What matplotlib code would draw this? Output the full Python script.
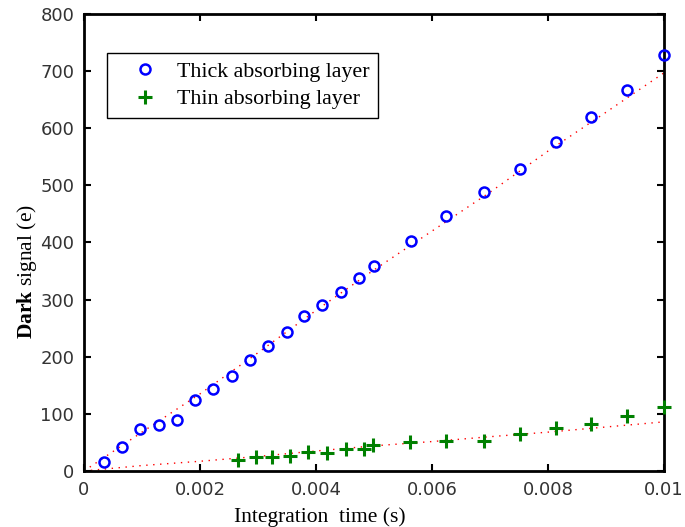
import numpy as np
import matplotlib.pyplot as plt

plt.rcParams["mathtext.fontset"] = "custom"
plt.rcParams["mathtext.bf"] = "Liberation Serif:bold"
plt.rcParams["mathtext.rm"] = "Liberation Serif"

# Thick absorbing layer: integration time (s) and dark signal (e)
t_thick = [0.00035, 0.00066, 0.00097, 0.00129, 0.00160, 0.00192, 0.00222, 0.00255,
           0.00287, 0.00317, 0.00350, 0.00379, 0.00411, 0.00443, 0.00474, 0.00500,
           0.00563, 0.00625, 0.00689, 0.00751, 0.00813, 0.00875, 0.00936, 0.01000]
s_thick = [15, 42, 73, 80, 89, 124, 143, 166,
           194, 218, 243, 272, 290, 314, 337, 358,
           403, 447, 489, 529, 576, 620, 667, 728]

# Thin absorbing layer
t_thin = [0.00266, 0.00296, 0.00325, 0.00356, 0.00387, 0.00419, 0.00452, 0.00482,
          0.00499, 0.00562, 0.00624, 0.00689, 0.00751, 0.00813, 0.00874, 0.00936, 0.01000]
s_thin = [20, 24, 25, 27, 34, 32, 38, 38,
          45, 50, 53, 53, 64, 76, 83, 97, 112]

# Fitted curves (dotted)
t_fit = [0, 0.001, 0.002, 0.003, 0.004, 0.005, 0.006, 0.007, 0.008, 0.009, 0.01]
fit_thick = [0, 68, 135, 207, 281, 352, 420, 488, 560, 628, 697]
fit_thin = [0, 9.5, 17, 25.5, 35, 44, 51.5, 60, 68, 77, 86]

xticks = [0, 0.002, 0.004, 0.006, 0.008, 0.01]
xticklabels = ["0", "0.002", "0.004", "0.006", "0.008", "0.01"]
yticks = list(range(0, 801, 100))

fig = plt.figure(figsize=(6.85, 5.27), dpi=100)
ax = fig.add_axes([0.1226, 0.1063, 0.8467, 0.8671])

dots = (0, (1, 4))
ax.plot(t_fit, fit_thick, color="red", lw=1, linestyle=dots)
ax.plot(t_fit, fit_thin, color="red", lw=1, linestyle=dots)

ax.plot(t_thick, s_thick, linestyle="none", marker="o", ms=7.2, mfc="none",
        mec="blue", mew=1.8, label="Thick absorbing layer", clip_on=False, zorder=5)
ax.plot(t_thin, s_thin, linestyle="none", marker="+", ms=10, mec="green",
        mew=2.2, label="Thin absorbing layer", clip_on=False, zorder=5)

ax.set_xlim(0, 0.01)
ax.set_ylim(0, 800)
ax.set_xticks(xticks)
ax.set_xticklabels(xticklabels)
ax.set_yticks(yticks)
ax.tick_params(direction="in", length=5, width=1.5, top=True, right=True,
               labelsize=13, labelcolor="#333333", pad=7)
for sp in ax.spines.values():
    sp.set_linewidth(2)

ax.set_xlabel("Integration  time (s)", family="Liberation Serif", fontsize=15.5)
ax.xaxis.set_label_coords(0.407, -0.079)
ax.xaxis.label.set_va("top")
ax.set_ylabel(r"$\mathbf{Dark}$ signal (e)", family="Liberation Serif", fontsize=15.5)
ax.yaxis.set_label_coords(-0.078, 0.4365)

leg = ax.legend(loc="upper left", bbox_to_anchor=(0.04, 0.914), borderaxespad=0,
                numpoints=1, handlelength=2.65, handletextpad=0.14, borderpad=0.38,
                labelspacing=0.32, fancybox=False, edgecolor="black",
                prop={"family": "Liberation Serif", "size": 15.8})
leg.get_frame().set_linewidth(1)
leg.get_frame().set_alpha(1)

fig.savefig("out.png", dpi=100)
